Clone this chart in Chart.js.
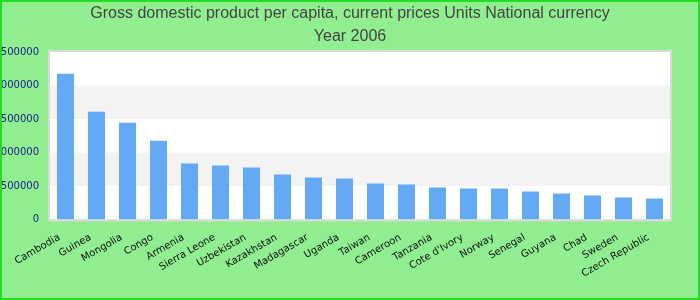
<!DOCTYPE html>
<html>
<head>
<meta charset="utf-8">
<title>GDP per capita 2006</title>
<script src="https://cdn.jsdelivr.net/npm/chart.js@4.4.0/dist/chart.umd.min.js"></script>
<style>
  html, body { margin: 0; padding: 0; background: #90ee90; }
  canvas { display: block; }
</style>
</head>
<body>
<canvas id="myChart" width="700" height="300"></canvas>
<script>
const titleLines = [
  "Gross domestic product per capita, current prices Units National currency",
  "Year 2006",
];

const countries = [
  "Cambodia", "Guinea", "Mongolia", "Congo", "Armenia", "Sierra Leone",
  "Uzbekistan", "Kazakhstan", "Madagascar", "Uganda", "Taiwan", "Cameroon",
  "Tanzania", "Cote d'Ivory", "Norway", "Senegal", "Guyana", "Chad",
  "Sweden", "Czech Republic",
];

const gdpValues = [
  2175000, 1610000, 1446000, 1177000, 835000, 805000,
  775000, 671000, 626000, 611000, 536000, 522000,
  477000, 462000, 462000, 417000, 387000, 358000,
  328000, 313000,
];

const yTicks = [0, 500000, 1000000, 1500000, 2000000, 2500000];

// gray bands drawn between every other pair of y ticks
const bandPairs = [
  [500000, 1000000],
  [1500000, 2000000],
];

const backgroundPlugin = {
  id: "backgroundPlugin",
  beforeDraw(chart) {
    const { ctx, chartArea, scales } = chart;
    ctx.save();
    ctx.fillStyle = "#90ee90";
    ctx.fillRect(0, 0, chart.width, chart.height);
    ctx.fillStyle = "#ffffff";
    ctx.fillRect(chartArea.left, chartArea.top, chartArea.width, chartArea.height);
    ctx.fillStyle = "#f3f3f3";
    bandPairs.forEach(([from, to]) => {
      const y1 = scales.y.getPixelForValue(to);
      const y2 = scales.y.getPixelForValue(from);
      ctx.fillRect(chartArea.left, y1, chartArea.width, y2 - y1);
    });
    ctx.restore();
  },
  afterDraw(chart) {
    const { ctx, chartArea } = chart;
    ctx.save();
    ctx.strokeStyle = "#d9d9d9";
    ctx.lineWidth = 2;
    ctx.strokeRect(chartArea.left - 1, chartArea.top - 1, chartArea.width + 2, chartArea.height + 2);
    ctx.strokeStyle = "#22dd22";
    ctx.lineWidth = 2;
    ctx.strokeRect(1, 1, chart.width - 2, chart.height - 2);
    ctx.restore();
  },
};

function createChart() {
  const ctx = document.getElementById("myChart").getContext("2d");
  new Chart(ctx, {
    type: "bar",
    data: {
      labels: countries,
      datasets: [
        {
          label: "GDP per capita",
          data: gdpValues,
          backgroundColor: "#63a9f4",
          borderWidth: 0,
          barPercentage: 0.55,
          categoryPercentage: 1,
        },
      ],
    },
    options: {
      responsive: false,
      animation: false,
      layout: {
        padding: { top: 0, right: 0, bottom: 8, left: 0 },
      },
      plugins: {
        legend: { display: false },
        tooltip: { enabled: false },
        title: {
          display: true,
          text: titleLines,
          color: "#444444",
          font: { family: "'Liberation Sans', Arial, sans-serif", size: 16, weight: "normal", lineHeight: 1.4375 },
          padding: { top: 2, bottom: 4 },
        },
      },
      scales: {
        x: {
          grid: { display: false, drawTicks: false },
          border: { display: false },
          ticks: {
            color: "#111111",
            font: { family: "'DejaVu Sans', Verdana, sans-serif", size: 10 },
            minRotation: 30,
            maxRotation: 30,
            autoSkip: false,
            padding: 12,
            labelOffset: -6,
          },
        },
        y: {
          min: 0,
          max: 2500000,
          afterFit: (scale) => {
            scale.width = 50;
          },
          afterBuildTicks: (scale) => {
            scale.ticks = yTicks.map((v) => ({ value: v }));
          },
          grid: { display: false, drawTicks: false },
          border: { display: false },
          ticks: {
            color: "#1a1a8c",
            font: { family: "'DejaVu Sans', Verdana, sans-serif", size: 10 },
            padding: 11,
            callback: (value) => String(value),
          },
        },
        // empty right-hand axis, only reserves the margin right of the plot
        yRight: {
          type: "linear",
          position: "right",
          afterFit: (scale) => {
            scale.width = 30;
          },
          grid: { display: false, drawTicks: false },
          border: { display: false },
          ticks: { display: false },
        },
      },
    },
    plugins: [backgroundPlugin],
  });
}

document.addEventListener("DOMContentLoaded", createChart);
</script>
</body>
</html>
